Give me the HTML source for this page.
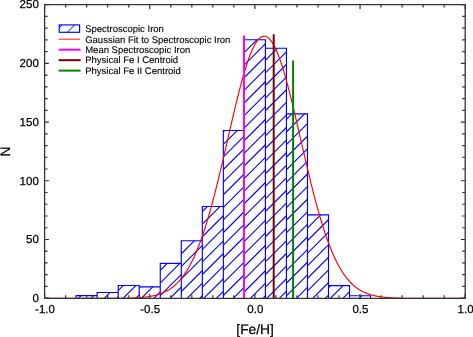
<!DOCTYPE html>
<html><head><meta charset="utf-8"><style>
html,body{margin:0;padding:0;background:#fff;width:473px;height:337px;overflow:hidden}
svg{display:block;will-change:transform;text-rendering:geometricPrecision;}
text{stroke:#000;stroke-width:0.25px;font-family:"Liberation Sans",sans-serif}
.lg text{stroke-width:0.12px}
</style></head><body>
<svg width="473" height="337" viewBox="0 0 473 337">
<defs><clipPath id="c0"><rect x="76.14" y="295.60" width="21.03" height="2.60"/></clipPath><clipPath id="c1"><rect x="97.17" y="292.50" width="21.03" height="5.70"/></clipPath><clipPath id="c2"><rect x="118.20" y="285.50" width="21.03" height="12.70"/></clipPath><clipPath id="c3"><rect x="139.23" y="286.80" width="21.03" height="11.40"/></clipPath><clipPath id="c4"><rect x="160.27" y="263.30" width="21.03" height="34.90"/></clipPath><clipPath id="c5"><rect x="181.29" y="240.70" width="21.03" height="57.50"/></clipPath><clipPath id="c6"><rect x="202.32" y="206.50" width="21.03" height="91.70"/></clipPath><clipPath id="c7"><rect x="223.35" y="130.50" width="21.03" height="167.70"/></clipPath><clipPath id="c8"><rect x="244.38" y="39.70" width="21.03" height="258.50"/></clipPath><clipPath id="c9"><rect x="265.42" y="48.20" width="21.03" height="250.00"/></clipPath><clipPath id="c10"><rect x="286.44" y="113.90" width="21.03" height="184.30"/></clipPath><clipPath id="c11"><rect x="307.48" y="214.90" width="21.03" height="83.30"/></clipPath><clipPath id="c12"><rect x="328.50" y="285.60" width="21.03" height="12.60"/></clipPath><clipPath id="c13"><rect x="349.53" y="295.70" width="21.03" height="2.50"/></clipPath></defs>
<g stroke="#0000ff" stroke-width="1.1" fill="none"><path clip-path="url(#c0)" d="M76.50 300.20L83.10 293.60M89.10 300.20L95.70 293.60"/><path clip-path="url(#c1)" d="M89.70 300.20L99.40 290.50M102.30 300.20L112.00 290.50M114.90 300.20L124.60 290.50"/><path clip-path="url(#c2)" d="M108.60 300.20L125.30 283.50M121.20 300.20L137.90 283.50M133.80 300.20L150.50 283.50"/><path clip-path="url(#c3)" d="M126.80 300.20L142.20 284.80M139.40 300.20L154.80 284.80M152.00 300.20L167.40 284.80"/><path clip-path="url(#c4)" d="M130.40 300.20L169.30 261.30M143.00 300.20L181.90 261.30M155.60 300.20L194.50 261.30M168.20 300.20L207.10 261.30"/><path clip-path="url(#c5)" d="M122.30 300.20L183.80 238.70M134.90 300.20L196.40 238.70M147.50 300.20L209.00 238.70M160.10 300.20L221.60 238.70M172.70 300.20L234.20 238.70M185.30 300.20L246.80 238.70M197.90 300.20L259.40 238.70"/><path clip-path="url(#c6)" d="M113.70 300.20L209.40 204.50M126.30 300.20L222.00 204.50M138.90 300.20L234.60 204.50M151.50 300.20L247.20 204.50M164.10 300.20L259.80 204.50M176.70 300.20L272.40 204.50M189.30 300.20L285.00 204.50M201.90 300.20L297.60 204.50M214.50 300.20L310.20 204.50"/><path clip-path="url(#c7)" d="M54.90 300.20L226.60 128.50M67.50 300.20L239.20 128.50M80.10 300.20L251.80 128.50M92.70 300.20L264.40 128.50M105.30 300.20L277.00 128.50M117.90 300.20L289.60 128.50M130.50 300.20L302.20 128.50M143.10 300.20L314.80 128.50M155.70 300.20L327.40 128.50M168.30 300.20L340.00 128.50M180.90 300.20L352.60 128.50M193.50 300.20L365.20 128.50M206.10 300.20L377.80 128.50M218.70 300.20L390.40 128.50M231.30 300.20L403.00 128.50"/><path clip-path="url(#c8)" d="M-16.10 300.20L246.40 37.70M-3.50 300.20L259.00 37.70M9.10 300.20L271.60 37.70M21.70 300.20L284.20 37.70M34.30 300.20L296.80 37.70M46.90 300.20L309.40 37.70M59.50 300.20L322.00 37.70M72.10 300.20L334.60 37.70M84.70 300.20L347.20 37.70M97.30 300.20L359.80 37.70M109.90 300.20L372.40 37.70M122.50 300.20L385.00 37.70M135.10 300.20L397.60 37.70M147.70 300.20L410.20 37.70M160.30 300.20L422.80 37.70M172.90 300.20L435.40 37.70M185.50 300.20L448.00 37.70M198.10 300.20L460.60 37.70M210.70 300.20L473.20 37.70M223.30 300.20L485.80 37.70M235.90 300.20L498.40 37.70M248.50 300.20L511.00 37.70M261.10 300.20L523.60 37.70"/><path clip-path="url(#c9)" d="M25.50 300.20L279.50 46.20M38.10 300.20L292.10 46.20M50.70 300.20L304.70 46.20M63.30 300.20L317.30 46.20M75.90 300.20L329.90 46.20M88.50 300.20L342.50 46.20M101.10 300.20L355.10 46.20M113.70 300.20L367.70 46.20M126.30 300.20L380.30 46.20M138.90 300.20L392.90 46.20M151.50 300.20L405.50 46.20M164.10 300.20L418.10 46.20M176.70 300.20L430.70 46.20M189.30 300.20L443.30 46.20M201.90 300.20L455.90 46.20M214.50 300.20L468.50 46.20M227.10 300.20L481.10 46.20M239.70 300.20L493.70 46.20M252.30 300.20L506.30 46.20M264.90 300.20L518.90 46.20M277.50 300.20L531.50 46.20"/><path clip-path="url(#c10)" d="M105.60 300.20L293.90 111.90M118.20 300.20L306.50 111.90M130.80 300.20L319.10 111.90M143.40 300.20L331.70 111.90M156.00 300.20L344.30 111.90M168.60 300.20L356.90 111.90M181.20 300.20L369.50 111.90M193.80 300.20L382.10 111.90M206.40 300.20L394.70 111.90M219.00 300.20L407.30 111.90M231.60 300.20L419.90 111.90M244.20 300.20L432.50 111.90M256.80 300.20L445.10 111.90M269.40 300.20L457.70 111.90M282.00 300.20L470.30 111.90M294.60 300.20L482.90 111.90"/><path clip-path="url(#c11)" d="M222.70 300.20L310.00 212.90M235.30 300.20L322.60 212.90M247.90 300.20L335.20 212.90M260.50 300.20L347.80 212.90M273.10 300.20L360.40 212.90M285.70 300.20L373.00 212.90M298.30 300.20L385.60 212.90M310.90 300.20L398.20 212.90M323.50 300.20L410.80 212.90"/><path clip-path="url(#c12)" d="M315.90 300.20L332.50 283.60M328.50 300.20L345.10 283.60M341.10 300.20L357.70 283.60"/><path clip-path="url(#c13)" d="M357.30 300.20L363.80 293.70"/></g>
<path stroke="#0000ff" stroke-width="1.15" stroke-linecap="square" fill="none" d="M76.14 295.60H97.17M97.17 292.50H118.21M118.20 285.50H139.24M139.23 286.80H160.27M160.27 263.30H181.29M181.29 240.70H202.32M202.32 206.50H223.35M223.35 130.50H244.38M244.38 39.70H265.42M265.42 48.20H286.44M286.44 113.90H307.48M307.48 214.90H328.50M328.50 285.60H349.53M349.53 295.70H370.56M76.14 298.20V295.60M97.17 298.20V292.50M118.20 298.20V285.50M139.23 298.20V285.50M160.26 298.20V263.30M181.29 298.20V240.70M202.32 298.20V206.50M223.35 298.20V130.50M244.38 298.20V39.70M265.41 298.20V39.70M286.44 298.20V48.20M307.48 298.20V113.90M328.50 298.20V214.90M349.53 298.20V285.60M370.56 298.20V295.70"/>
<path d="M44.60 298.20V293.90M44.60 4.60V8.90M65.63 298.20V295.20M65.63 4.60V7.60M86.66 298.20V295.20M86.66 4.60V7.60M107.69 298.20V295.20M107.69 4.60V7.60M128.72 298.20V295.20M128.72 4.60V7.60M149.75 298.20V293.90M149.75 4.60V8.90M170.78 298.20V295.20M170.78 4.60V7.60M191.81 298.20V295.20M191.81 4.60V7.60M212.84 298.20V295.20M212.84 4.60V7.60M233.87 298.20V295.20M233.87 4.60V7.60M254.90 298.20V293.90M254.90 4.60V8.90M275.93 298.20V295.20M275.93 4.60V7.60M296.96 298.20V295.20M296.96 4.60V7.60M317.99 298.20V295.20M317.99 4.60V7.60M339.02 298.20V295.20M339.02 4.60V7.60M360.05 298.20V293.90M360.05 4.60V8.90M381.08 298.20V295.20M381.08 4.60V7.60M402.11 298.20V295.20M402.11 4.60V7.60M423.14 298.20V295.20M423.14 4.60V7.60M444.17 298.20V295.20M444.17 4.60V7.60M465.20 298.20V293.90M465.20 4.60V8.90M44.60 298.20H48.90M465.20 298.20H460.90M44.60 286.46H47.60M465.20 286.46H462.20M44.60 274.71H47.60M465.20 274.71H462.20M44.60 262.97H47.60M465.20 262.97H462.20M44.60 251.22H47.60M465.20 251.22H462.20M44.60 239.48H48.90M465.20 239.48H460.90M44.60 227.74H47.60M465.20 227.74H462.20M44.60 215.99H47.60M465.20 215.99H462.20M44.60 204.25H47.60M465.20 204.25H462.20M44.60 192.50H47.60M465.20 192.50H462.20M44.60 180.76H48.90M465.20 180.76H460.90M44.60 169.02H47.60M465.20 169.02H462.20M44.60 157.27H47.60M465.20 157.27H462.20M44.60 145.53H47.60M465.20 145.53H462.20M44.60 133.78H47.60M465.20 133.78H462.20M44.60 122.04H48.90M465.20 122.04H460.90M44.60 110.30H47.60M465.20 110.30H462.20M44.60 98.55H47.60M465.20 98.55H462.20M44.60 86.81H47.60M465.20 86.81H462.20M44.60 75.06H47.60M465.20 75.06H462.20M44.60 63.32H48.90M465.20 63.32H460.90M44.60 51.58H47.60M465.20 51.58H462.20M44.60 39.83H47.60M465.20 39.83H462.20M44.60 28.09H47.60M465.20 28.09H462.20M44.60 16.34H47.60M465.20 16.34H462.20M44.60 4.60H48.90M465.20 4.60H460.90" stroke="#333" stroke-width="1.2" fill="none"/>
<polyline points="44.60,298.42 45.10,298.42 45.60,298.42 46.10,298.42 46.60,298.42 47.10,298.42 47.60,298.42 48.10,298.42 48.60,298.42 49.10,298.42 49.60,298.42 50.10,298.42 50.60,298.42 51.10,298.42 51.60,298.42 52.10,298.42 52.60,298.42 53.10,298.42 53.60,298.42 54.10,298.42 54.60,298.42 55.10,298.42 55.60,298.42 56.10,298.42 56.60,298.42 57.10,298.42 57.60,298.42 58.10,298.42 58.60,298.42 59.10,298.42 59.60,298.42 60.10,298.42 60.60,298.42 61.10,298.42 61.60,298.42 62.10,298.42 62.60,298.42 63.10,298.42 63.60,298.42 64.10,298.42 64.60,298.42 65.10,298.42 65.60,298.42 66.10,298.42 66.60,298.42 67.10,298.42 67.60,298.42 68.10,298.42 68.60,298.42 69.10,298.42 69.60,298.42 70.10,298.42 70.60,298.42 71.10,298.42 71.60,298.42 72.10,298.42 72.60,298.42 73.10,298.42 73.60,298.42 74.10,298.42 74.60,298.42 75.10,298.42 75.60,298.42 76.10,298.42 76.60,298.42 77.10,298.42 77.60,298.42 78.10,298.42 78.60,298.42 79.10,298.42 79.60,298.42 80.10,298.42 80.60,298.42 81.10,298.42 81.60,298.42 82.10,298.42 82.60,298.42 83.10,298.42 83.60,298.42 84.10,298.42 84.60,298.42 85.10,298.42 85.60,298.42 86.10,298.42 86.60,298.42 87.10,298.42 87.60,298.42 88.10,298.42 88.60,298.42 89.10,298.42 89.60,298.42 90.10,298.42 90.60,298.42 91.10,298.42 91.60,298.42 92.10,298.42 92.60,298.42 93.10,298.42 93.60,298.42 94.10,298.41 94.60,298.41 95.10,298.41 95.60,298.41 96.10,298.41 96.60,298.41 97.10,298.41 97.60,298.41 98.10,298.41 98.60,298.41 99.10,298.41 99.60,298.41 100.10,298.41 100.60,298.41 101.10,298.41 101.60,298.41 102.10,298.41 102.60,298.41 103.10,298.40 103.60,298.40 104.10,298.40 104.60,298.40 105.10,298.40 105.60,298.40 106.10,298.40 106.60,298.40 107.10,298.40 107.60,298.39 108.10,298.39 108.60,298.39 109.10,298.39 109.60,298.39 110.10,298.38 110.60,298.38 111.10,298.38 111.60,298.38 112.10,298.38 112.60,298.37 113.10,298.37 113.60,298.37 114.10,298.36 114.60,298.36 115.10,298.36 115.60,298.35 116.10,298.35 116.60,298.35 117.10,298.34 117.60,298.34 118.10,298.33 118.60,298.33 119.10,298.32 119.60,298.32 120.10,298.31 120.60,298.31 121.10,298.30 121.60,298.29 122.10,298.29 122.60,298.28 123.10,298.27 123.60,298.26 124.10,298.25 124.60,298.25 125.10,298.24 125.60,298.23 126.10,298.22 126.60,298.20 127.10,298.19 127.60,298.18 128.10,298.17 128.60,298.16 129.10,298.14 129.60,298.13 130.10,298.11 130.60,298.10 131.10,298.08 131.60,298.06 132.10,298.04 132.60,298.03 133.10,298.01 133.60,297.98 134.10,297.96 134.60,297.94 135.10,297.92 135.60,297.89 136.10,297.87 136.60,297.84 137.10,297.81 137.60,297.78 138.10,297.75 138.60,297.72 139.10,297.68 139.60,297.65 140.10,297.61 140.60,297.57 141.10,297.53 141.60,297.49 142.10,297.45 142.60,297.40 143.10,297.35 143.60,297.30 144.10,297.25 144.60,297.20 145.10,297.14 145.60,297.08 146.10,297.02 146.60,296.96 147.10,296.89 147.60,296.83 148.10,296.75 148.60,296.68 149.10,296.60 149.60,296.52 150.10,296.44 150.60,296.35 151.10,296.26 151.60,296.17 152.10,296.07 152.60,295.97 153.10,295.87 153.60,295.76 154.10,295.65 154.60,295.53 155.10,295.41 155.60,295.28 156.10,295.15 156.60,295.02 157.10,294.88 157.60,294.73 158.10,294.58 158.60,294.43 159.10,294.27 159.60,294.10 160.10,293.93 160.60,293.75 161.10,293.57 161.60,293.38 162.10,293.18 162.60,292.97 163.10,292.76 163.60,292.54 164.10,292.32 164.60,292.09 165.10,291.84 165.60,291.60 166.10,291.34 166.60,291.07 167.10,290.80 167.60,290.52 168.10,290.23 168.60,289.93 169.10,289.62 169.60,289.30 170.10,288.97 170.60,288.63 171.10,288.28 171.60,287.92 172.10,287.55 172.60,287.17 173.10,286.78 173.60,286.38 174.10,285.96 174.60,285.53 175.10,285.10 175.60,284.64 176.10,284.18 176.60,283.70 177.10,283.21 177.60,282.71 178.10,282.19 178.60,281.66 179.10,281.11 179.60,280.55 180.10,279.98 180.60,279.39 181.10,278.78 181.60,278.16 182.10,277.53 182.60,276.88 183.10,276.21 183.60,275.52 184.10,274.82 184.60,274.10 185.10,273.37 185.60,272.62 186.10,271.85 186.60,271.06 187.10,270.25 187.60,269.43 188.10,268.59 188.60,267.72 189.10,266.84 189.60,265.94 190.10,265.03 190.60,264.09 191.10,263.13 191.60,262.15 192.10,261.15 192.60,260.13 193.10,259.09 193.60,258.04 194.10,256.95 194.60,255.85 195.10,254.73 195.60,253.59 196.10,252.42 196.60,251.24 197.10,250.03 197.60,248.80 198.10,247.55 198.60,246.27 199.10,244.98 199.60,243.66 200.10,242.32 200.60,240.96 201.10,239.58 201.60,238.18 202.10,236.75 202.60,235.30 203.10,233.83 203.60,232.34 204.10,230.83 204.60,229.29 205.10,227.73 205.60,226.16 206.10,224.56 206.60,222.93 207.10,221.29 207.60,219.63 208.10,217.95 208.60,216.24 209.10,214.52 209.60,212.77 210.10,211.01 210.60,209.22 211.10,207.42 211.60,205.59 212.10,203.75 212.60,201.89 213.10,200.01 213.60,198.12 214.10,196.20 214.60,194.27 215.10,192.33 215.60,190.36 216.10,188.39 216.60,186.39 217.10,184.38 217.60,182.36 218.10,180.32 218.60,178.27 219.10,176.21 219.60,174.14 220.10,172.05 220.60,169.95 221.10,167.85 221.60,165.73 222.10,163.60 222.60,161.47 223.10,159.33 223.60,157.18 224.10,155.02 224.60,152.86 225.10,150.70 225.60,148.53 226.10,146.35 226.60,144.18 227.10,142.00 227.60,139.82 228.10,137.64 228.60,135.47 229.10,133.29 229.60,131.12 230.10,128.95 230.60,126.78 231.10,124.62 231.60,122.46 232.10,120.31 232.60,118.17 233.10,116.04 233.60,113.91 234.10,111.80 234.60,109.70 235.10,107.61 235.60,105.53 236.10,103.47 236.60,101.42 237.10,99.39 237.60,97.37 238.10,95.37 238.60,93.39 239.10,91.43 239.60,89.49 240.10,87.57 240.60,85.68 241.10,83.81 241.60,81.96 242.10,80.13 242.60,78.34 243.10,76.57 243.60,74.82 244.10,73.11 244.60,71.42 245.10,69.77 245.60,68.15 246.10,66.56 246.60,65.00 247.10,63.47 247.60,61.98 248.10,60.53 248.60,59.11 249.10,57.72 249.60,56.38 250.10,55.07 250.60,53.80 251.10,52.57 251.60,51.39 252.10,50.24 252.60,49.13 253.10,48.07 253.60,47.05 254.10,46.07 254.60,45.13 255.10,44.24 255.60,43.40 256.10,42.60 256.60,41.84 257.10,41.13 257.60,40.47 258.10,39.86 258.60,39.29 259.10,38.77 259.60,38.29 260.10,37.87 260.60,37.49 261.10,37.16 261.60,36.88 262.10,36.65 262.60,36.47 263.10,36.34 263.60,36.26 264.10,36.22 264.60,36.24 265.10,36.30 265.60,36.41 266.10,36.58 266.60,36.79 267.10,37.05 267.60,37.36 268.10,37.71 268.60,38.12 269.10,38.57 269.60,39.07 270.10,39.62 270.60,40.22 271.10,40.86 271.60,41.55 272.10,42.29 272.60,43.07 273.10,43.90 273.60,44.77 274.10,45.69 274.60,46.65 275.10,47.65 275.60,48.70 276.10,49.79 276.60,50.92 277.10,52.09 277.60,53.31 278.10,54.56 278.60,55.85 279.10,57.18 279.60,58.55 280.10,59.95 280.60,61.40 281.10,62.87 281.60,64.38 282.10,65.93 282.60,67.51 283.10,69.12 283.60,70.76 284.10,72.43 284.60,74.13 285.10,75.87 285.60,77.63 286.10,79.41 286.60,81.23 287.10,83.06 287.60,84.93 288.10,86.81 288.60,88.72 289.10,90.65 289.60,92.61 290.10,94.58 290.60,96.57 291.10,98.58 291.60,100.60 292.10,102.64 292.60,104.70 293.10,106.77 293.60,108.86 294.10,110.96 294.60,113.07 295.10,115.19 295.60,117.32 296.10,119.45 296.60,121.60 297.10,123.75 297.60,125.91 298.10,128.08 298.60,130.25 299.10,132.42 299.60,134.60 300.10,136.77 300.60,138.95 301.10,141.13 301.60,143.31 302.10,145.48 302.60,147.66 303.10,149.83 303.60,152.00 304.10,154.16 304.60,156.32 305.10,158.47 305.60,160.61 306.10,162.75 306.60,164.88 307.10,167.00 307.60,169.11 308.10,171.21 308.60,173.30 309.10,175.38 309.60,177.45 310.10,179.50 310.60,181.55 311.10,183.58 311.60,185.59 312.10,187.59 312.60,189.57 313.10,191.54 313.60,193.50 314.10,195.43 314.60,197.35 315.10,199.26 315.60,201.14 316.10,203.01 316.60,204.86 317.10,206.69 317.60,208.50 318.10,210.29 318.60,212.07 319.10,213.82 319.60,215.55 320.10,217.27 320.60,218.96 321.10,220.63 321.60,222.28 322.10,223.91 322.60,225.52 323.10,227.11 323.60,228.67 324.10,230.22 324.60,231.74 325.10,233.24 325.60,234.72 326.10,236.17 326.60,237.61 327.10,239.02 327.60,240.41 328.10,241.78 328.60,243.13 329.10,244.46 329.60,245.76 330.10,247.04 330.60,248.30 331.10,249.54 331.60,250.76 332.10,251.95 332.60,253.12 333.10,254.28 333.60,255.41 334.10,256.52 334.60,257.61 335.10,258.67 335.60,259.72 336.10,260.75 336.60,261.75 337.10,262.74 337.60,263.71 338.10,264.65 338.60,265.58 339.10,266.49 339.60,267.37 340.10,268.24 340.60,269.09 341.10,269.93 341.60,270.74 342.10,271.53 342.60,272.31 343.10,273.07 343.60,273.81 344.10,274.54 344.60,275.24 345.10,275.94 345.60,276.61 346.10,277.27 346.60,277.91 347.10,278.54 347.60,279.15 348.10,279.74 348.60,280.32 349.10,280.89 349.60,281.44 350.10,281.98 350.60,282.50 351.10,283.01 351.60,283.51 352.10,283.99 352.60,284.46 353.10,284.92 353.60,285.36 354.10,285.79 354.60,286.21 355.10,286.62 355.60,287.02 356.10,287.40 356.60,287.78 357.10,288.14 357.60,288.49 358.10,288.84 358.60,289.17 359.10,289.49 359.60,289.81 360.10,290.11 360.60,290.40 361.10,290.69 361.60,290.97 362.10,291.23 362.60,291.49 363.10,291.75 363.60,291.99 364.10,292.23 364.60,292.45 365.10,292.68 365.60,292.89 366.10,293.10 366.60,293.30 367.10,293.49 367.60,293.68 368.10,293.86 368.60,294.03 369.10,294.20 369.60,294.37 370.10,294.52 370.60,294.68 371.10,294.82 371.60,294.96 372.10,295.10 372.60,295.23 373.10,295.36 373.60,295.48 374.10,295.60 374.60,295.72 375.10,295.83 375.60,295.93 376.10,296.03 376.60,296.13 377.10,296.23 377.60,296.32 378.10,296.41 378.60,296.49 379.10,296.57 379.60,296.65 380.10,296.72 380.60,296.80 381.10,296.87 381.60,296.93 382.10,297.00 382.60,297.06 383.10,297.12 383.60,297.18 384.10,297.23 384.60,297.28 385.10,297.33 385.60,297.38 386.10,297.43 386.60,297.47 387.10,297.51 387.60,297.56 388.10,297.59 388.60,297.63 389.10,297.67 389.60,297.70 390.10,297.74 390.60,297.77 391.10,297.80 391.60,297.83 392.10,297.85 392.60,297.88 393.10,297.91 393.60,297.93 394.10,297.95 394.60,297.98 395.10,298.00 395.60,298.02 396.10,298.04 396.60,298.06 397.10,298.07 397.60,298.09 398.10,298.11 398.60,298.12 399.10,298.14 399.60,298.15 400.10,298.16 400.60,298.18 401.10,298.19 401.60,298.20 402.10,298.21 402.60,298.22 403.10,298.23 403.60,298.24 404.10,298.25 404.60,298.26 405.10,298.27 405.60,298.28 406.10,298.28 406.60,298.29 407.10,298.30 407.60,298.30 408.10,298.31 408.60,298.32 409.10,298.32 409.60,298.33 410.10,298.33 410.60,298.34 411.10,298.34 411.60,298.34 412.10,298.35 412.60,298.35 413.10,298.36 413.60,298.36 414.10,298.36 414.60,298.37 415.10,298.37 415.60,298.37 416.10,298.37 416.60,298.38 417.10,298.38 417.60,298.38 418.10,298.38 418.60,298.39 419.10,298.39 419.60,298.39 420.10,298.39 420.60,298.39 421.10,298.39 421.60,298.40 422.10,298.40 422.60,298.40 423.10,298.40 423.60,298.40 424.10,298.40 424.60,298.40 425.10,298.40 425.60,298.41 426.10,298.41 426.60,298.41 427.10,298.41 427.60,298.41 428.10,298.41 428.60,298.41 429.10,298.41 429.60,298.41 430.10,298.41 430.60,298.41 431.10,298.41 431.60,298.41 432.10,298.41 432.60,298.41 433.10,298.41 433.60,298.41 434.10,298.41 434.60,298.42 435.10,298.42 435.60,298.42 436.10,298.42 436.60,298.42 437.10,298.42 437.60,298.42 438.10,298.42 438.60,298.42 439.10,298.42 439.60,298.42 440.10,298.42 440.60,298.42 441.10,298.42 441.60,298.42 442.10,298.42 442.60,298.42 443.10,298.42 443.60,298.42 444.10,298.42 444.60,298.42 445.10,298.42 445.60,298.42 446.10,298.42 446.60,298.42 447.10,298.42 447.60,298.42 448.10,298.42 448.60,298.42 449.10,298.42 449.60,298.42 450.10,298.42 450.60,298.42 451.10,298.42 451.60,298.42 452.10,298.42 452.60,298.42 453.10,298.42 453.60,298.42 454.10,298.42 454.60,298.42 455.10,298.42 455.60,298.42 456.10,298.42 456.60,298.42 457.10,298.42 457.60,298.42 458.10,298.42 458.60,298.42 459.10,298.42 459.60,298.42 460.10,298.42 460.60,298.42 461.10,298.42 461.60,298.42 462.10,298.42 462.60,298.42 463.10,298.42 463.60,298.42 464.10,298.42 464.60,298.42 465.10,298.42" fill="none" stroke="#ff0000" stroke-width="1.15"/>

<line x1="244.0" y1="35.6" x2="244.0" y2="298.2" stroke="#ff00ff" stroke-width="2"/>
<line x1="273.7" y1="34.3" x2="273.7" y2="298.2" stroke="#7a0000" stroke-width="2"/>
<line x1="293.1" y1="60.5" x2="293.1" y2="298.2" stroke="#008000" stroke-width="2"/>

<rect x="44.6" y="4.6" width="420.60" height="293.80" fill="none" stroke="#333" stroke-width="1.3" stroke-linejoin="round"/>
<g font-size="11.5px" fill="#000"><text x="38.8" y="301.95" text-anchor="end">0</text><text x="38.8" y="243.23" text-anchor="end">50</text><text x="38.8" y="184.51" text-anchor="end">100</text><text x="38.8" y="125.79" text-anchor="end">150</text><text x="38.8" y="67.07" text-anchor="end">200</text><text x="38.8" y="8.35" text-anchor="end">250</text><text x="45.00" y="313.45" text-anchor="middle">-1.0</text><text x="150.15" y="313.45" text-anchor="middle">-0.5</text><text x="255.30" y="313.45" text-anchor="middle">0.0</text><text x="360.45" y="313.45" text-anchor="middle">0.5</text><text x="465.60" y="313.45" text-anchor="middle">1.0</text></g>
<text x="255.1" y="333.5" font-size="13.8px" text-anchor="middle">[Fe/H]</text>
<text transform="translate(10.4,151.4) rotate(-90)" font-size="13.8px" text-anchor="middle">N</text>

<defs><clipPath id="lg"><rect x="59.2" y="24.9" width="20.4" height="7.4"/></clipPath></defs>
<path clip-path="url(#lg)" d="M56 31L64 23M65.2 34.3L76.2 23.3M77.8 34.3L88.8 23.3" stroke="#0000ff" stroke-width="1.0" fill="none"/>
<rect x="59.2" y="24.9" width="20.4" height="7.4" fill="none" stroke="#0000ff" stroke-width="1.15"/>
<line x1="58.6" y1="39.2" x2="80.2" y2="39.2" stroke="#ff3030" stroke-width="1.1"/>
<line x1="58.6" y1="49.7" x2="80.6" y2="49.7" stroke="#ff00ff" stroke-width="2"/>
<line x1="58.6" y1="60.2" x2="80.6" y2="60.2" stroke="#7a0000" stroke-width="2"/>
<line x1="58.6" y1="70.6" x2="80.6" y2="70.6" stroke="#008000" stroke-width="2"/>
<g font-size="9.5px" fill="#000" class="lg">
<text x="85.2" y="32.1">Spectroscopic Iron</text>
<text x="85.2" y="42.5">Gaussian Fit to Spectroscopic Iron</text>
<text x="85.2" y="52.9">Mean Spectroscopic Iron</text>
<text x="85.2" y="63.3">Physical Fe I Centroid</text>
<text x="85.2" y="73.7">Physical Fe II Centroid</text>
</g>

</svg>
</body></html>
